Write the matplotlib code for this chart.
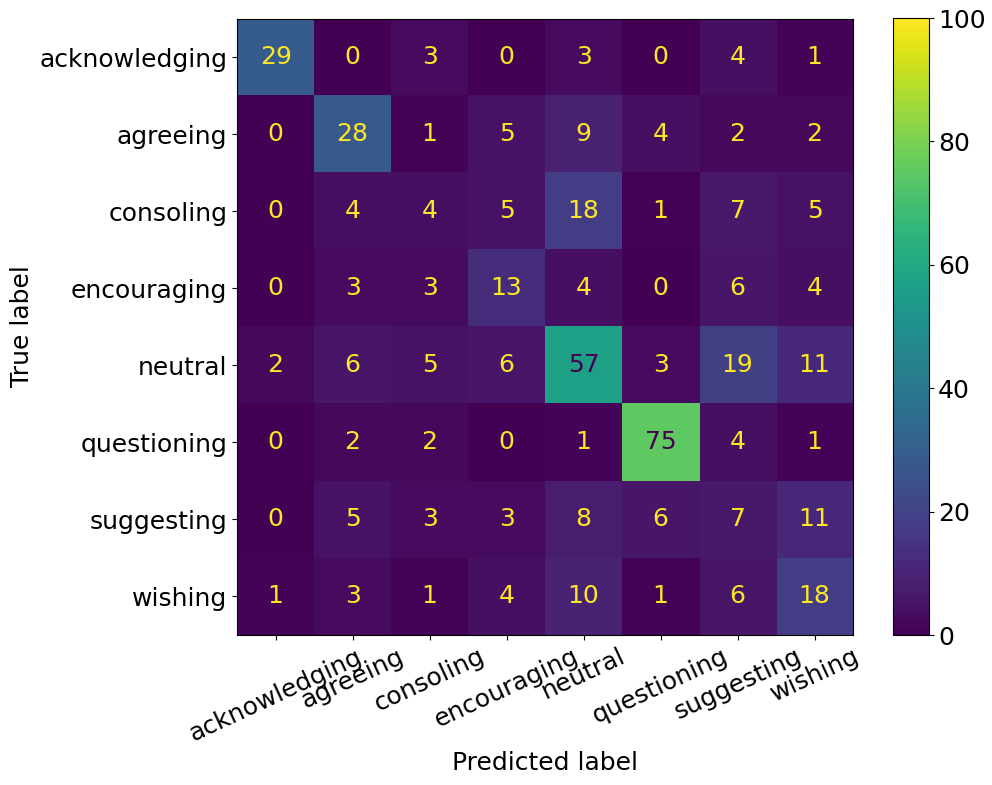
import numpy as np
import matplotlib
matplotlib.use("Agg")
import matplotlib.pyplot as plt

labels = ["acknowledging", "agreeing", "consoling", "encouraging",
          "neutral", "questioning", "suggesting", "wishing"]

row_acknowledging = [29, 0, 3, 0, 3, 0, 4, 1]
row_agreeing = [0, 28, 1, 5, 9, 4, 2, 2]
row_consoling = [0, 4, 4, 5, 18, 1, 7, 5]
row_encouraging = [0, 3, 3, 13, 4, 0, 6, 4]
row_neutral = [2, 6, 5, 6, 57, 3, 19, 11]
row_questioning = [0, 2, 2, 0, 1, 75, 4, 1]
row_suggesting = [0, 5, 3, 3, 8, 6, 7, 11]
row_wishing = [1, 3, 1, 4, 10, 1, 6, 18]

cm = np.array([row_acknowledging, row_agreeing, row_consoling, row_encouraging,
               row_neutral, row_questioning, row_suggesting, row_wishing])

plt.rcParams["font.size"] = 18
fig = plt.figure(figsize=(9.92, 7.85), dpi=100)
ax = fig.add_axes([0.239, 0.191, 0.621, 0.786])
cmap = plt.get_cmap("viridis")
im = ax.imshow(cm, cmap=cmap, vmin=0, vmax=100, interpolation="nearest")

thresh = (cm.max() + cm.min()) / 2.0
for i in range(cm.shape[0]):
    for j in range(cm.shape[1]):
        color = cmap(0.0) if cm[i, j] > thresh else cmap(1.0)
        ax.text(j, i, str(cm[i, j]), ha="center", va="center", color=color)

ax.set_xticks(np.arange(len(labels)))
ax.set_yticks(np.arange(len(labels)))
ax.set_xticklabels(labels, rotation=25)
ax.set_yticklabels(labels)
ax.set_xlabel("Predicted label")
ax.set_ylabel("True label")

cax = fig.add_axes([0.900, 0.191, 0.036, 0.786])
fig.colorbar(im, cax=cax)

plt.savefig("out.png", dpi=100)
